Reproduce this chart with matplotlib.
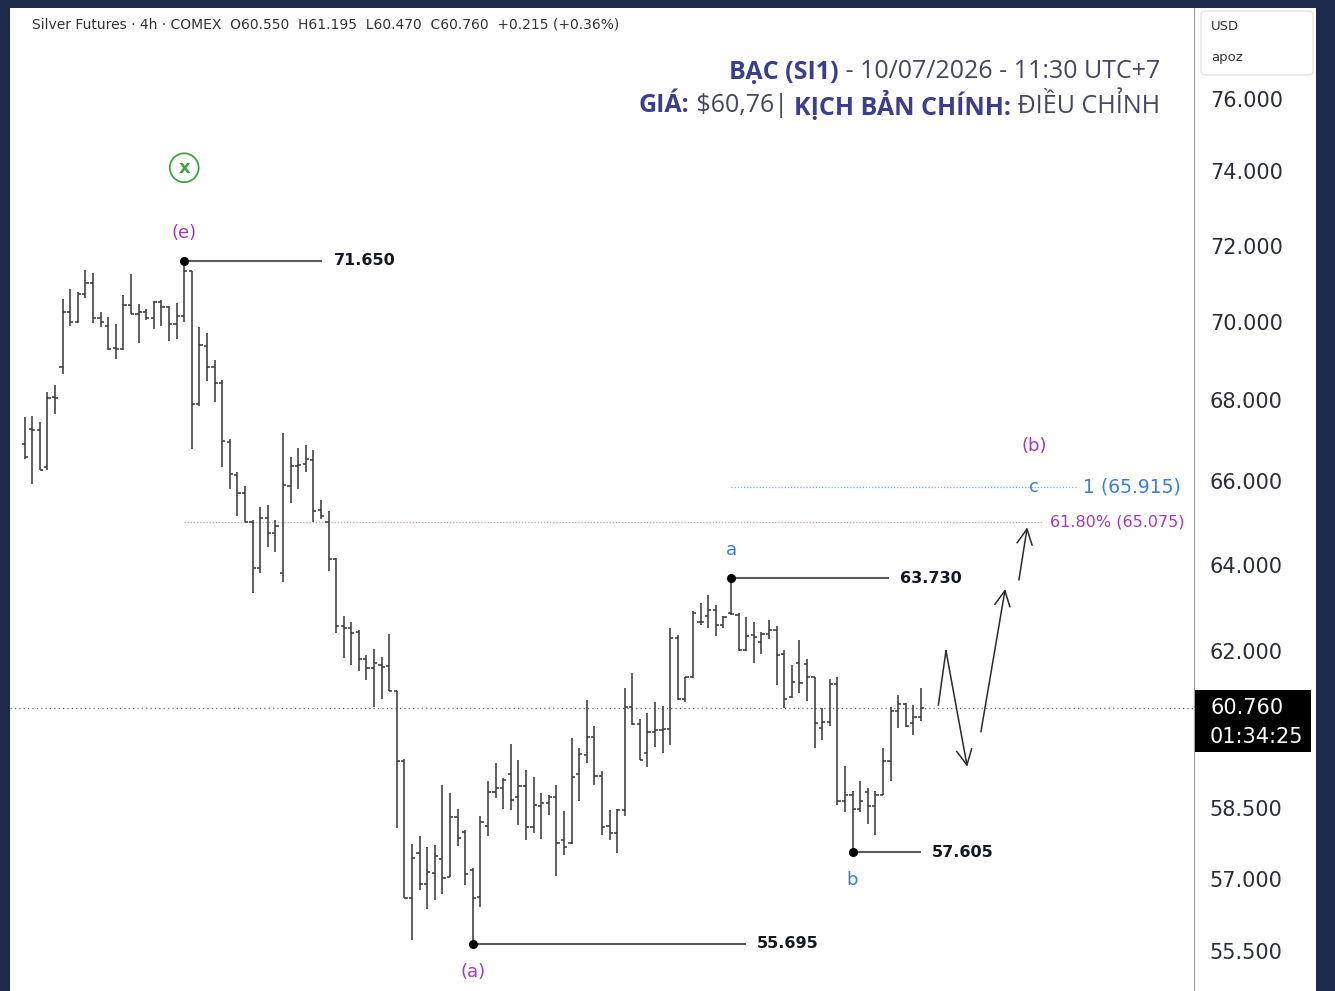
import matplotlib
matplotlib.use("Agg")
import matplotlib.pyplot as plt
import matplotlib.transforms as mtrans
from matplotlib.patches import Rectangle, FancyBboxPatch
from matplotlib.ticker import NullLocator
import numpy as np

W, H = 1335, 991

# Silver Futures 4h, OHLC (oldest -> newest)
opens = [66.97, 67.34, 67.32, 66.41, 68.14, 68.90, 70.31, 70.05, 70.78, 71.07,
         70.15, 69.95, 69.39, 69.36, 70.50, 70.26, 70.31, 70.15, 70.57, 70.44,
         70.00, 70.21, 71.37, 67.96, 69.42, 68.90, 68.50, 67.01, 66.21, 65.76,
         65.07, 63.97, 65.17, 64.81, 63.86, 65.94, 66.43, 66.48, 66.58, 65.36,
         65.06, 64.19, 62.61, 62.57, 62.47, 61.86, 61.65, 61.73, 61.71, 61.14,
         59.58, 56.64, 57.59, 56.94, 57.17, 57.46, 57.07, 58.35, 58.03, 57.22,
         56.65, 58.17, 58.90, 58.98, 59.30, 58.78, 59.02, 58.15, 58.59, 58.67,
         58.78, 57.87, 57.81, 59.28, 59.71, 60.10, 59.25, 58.17, 58.01, 58.50,
         60.77, 60.39, 59.75, 60.22, 60.26, 60.28, 62.35, 60.96, 61.45, 62.70,
         62.84, 62.99, 62.65, 62.92, 62.88, 62.07, 62.41, 62.26, 62.44, 62.53,
         61.98, 61.01, 61.77, 61.75, 61.45, 60.30, 60.43, 61.29, 58.70, 58.84,
         58.53, 58.89, 58.59, 58.84, 59.57, 60.68, 60.85, 60.41, 60.55]
highs = [67.64, 67.67, 67.52, 68.27, 68.45, 70.65, 70.91, 70.84, 71.41, 71.33,
         70.31, 70.18, 70.00, 70.76, 71.31, 70.52, 70.39, 70.60, 70.62, 70.47,
         70.55, 71.65, 71.37, 69.92, 69.77, 69.08, 68.57, 67.10, 66.29, 65.94,
         65.11, 65.43, 65.48, 65.11, 67.25, 66.65, 66.88, 66.95, 66.83, 65.59,
         65.32, 64.21, 62.86, 62.72, 62.53, 61.95, 62.08, 61.91, 62.43, 61.14,
         59.62, 57.78, 57.96, 57.71, 57.76, 59.04, 58.87, 58.52, 58.08, 57.28,
         58.38, 59.13, 59.54, 59.20, 59.94, 59.60, 59.38, 59.23, 58.88, 58.84,
         59.06, 58.48, 60.08, 59.86, 60.94, 60.34, 59.35, 58.50, 58.54, 61.20,
         61.55, 60.50, 60.64, 60.88, 60.79, 62.57, 62.41, 61.46, 62.96, 63.15,
         63.34, 63.11, 62.84, 63.73, 62.92, 62.83, 62.72, 62.49, 62.76, 62.61,
         62.07, 61.73, 62.30, 61.86, 61.45, 60.75, 61.41, 61.45, 59.46, 58.91,
         59.13, 58.99, 58.91, 59.87, 60.78, 61.05, 60.87, 60.81, 61.195]
lows = [66.60, 65.99, 66.33, 66.33, 67.72, 68.72, 69.95, 70.02, 70.68, 70.02,
        69.92, 69.34, 69.11, 69.34, 70.26, 69.51, 70.10, 69.87, 69.95, 69.56,
        69.62, 70.05, 66.85, 67.91, 68.55, 68.02, 66.41, 65.87, 65.20, 65.07,
        63.39, 63.86, 64.46, 64.35, 63.65, 65.53, 65.87, 66.28, 65.06, 65.15,
        63.89, 62.46, 61.88, 61.73, 61.58, 61.39, 60.77, 60.96, 61.13, 58.12,
        56.64, 55.77, 56.80, 56.42, 56.59, 56.73, 57.07, 57.73, 56.92, 55.695,
        56.46, 57.95, 58.76, 58.53, 58.50, 58.19, 57.87, 58.01, 57.88, 58.41,
        57.10, 57.55, 57.78, 58.70, 59.53, 59.06, 57.97, 57.87, 57.59, 58.37,
        60.38, 59.59, 59.44, 59.88, 59.76, 59.93, 60.94, 60.88, 61.43, 62.65,
        62.57, 62.38, 62.57, 62.88, 62.05, 62.05, 61.77, 61.97, 62.32, 61.28,
        60.75, 60.98, 61.10, 60.90, 59.86, 60.04, 60.34, 58.61, 58.46, 57.605,
        58.46, 58.21, 57.97, 58.84, 59.13, 60.30, 60.32, 60.15, 60.47]
closes = [66.65, 67.32, 66.33, 68.11, 68.11, 70.31, 70.05, 70.78, 71.07, 70.15,
          70.05, 69.36, 69.36, 70.50, 70.26, 70.31, 70.15, 70.57, 70.44, 70.00,
          70.21, 71.39, 67.96, 69.45, 68.90, 68.50, 67.03, 66.23, 65.76, 65.07,
          63.97, 65.17, 64.81, 64.96, 65.96, 66.43, 66.46, 66.60, 65.32, 65.20,
          64.19, 62.61, 62.57, 62.46, 61.86, 61.65, 61.77, 61.68, 61.14, 59.58,
          56.64, 57.48, 56.94, 57.18, 57.52, 57.05, 58.35, 57.90, 57.15, 56.63,
          58.26, 58.90, 58.98, 59.17, 58.73, 59.02, 58.15, 58.62, 58.67, 58.78,
          57.81, 57.71, 59.23, 59.73, 60.10, 59.25, 58.15, 58.01, 58.50, 60.77,
          60.39, 59.60, 60.22, 60.26, 60.28, 62.35, 60.96, 61.45, 62.92, 62.72,
          63.00, 62.65, 62.83, 62.90, 62.07, 62.39, 62.37, 62.44, 62.53, 61.95,
          60.96, 61.33, 61.32, 61.45, 60.41, 60.43, 61.29, 58.70, 58.83, 58.53,
          58.70, 58.59, 58.84, 59.57, 60.68, 60.85, 60.35, 60.56, 60.76]

price_ticks = [76, 74, 72, 70, 68, 66, 64, 62, 58.5, 57, 55.5]
last_price = 60.760
countdown = "01:34:25"
header = "Silver Futures · 4h · COMEX  O60.550  H61.195  L60.470  C60.760  +0.215 (+0.36%)"

# wave pivots: bar index, price, wave label
piv_idx = [21, 59, 93, 109]
piv_price = [71.650, 55.695, 63.730, 57.605]
piv_label = ["(e)", "(a)", "a", "b"]

fib_1 = 65.915
fib_618 = 65.075

# projected scenario path (bar index, price)
path_1 = [(120.3, 60.82), (121.3, 62.05), (124.1, 59.45)]
path_2 = [(125.9, 60.22), (129.1, 63.48)]
path_3 = [(130.9, 63.69), (132.0, 64.94)]

PURPLE = "#a23bc0"
BLUE = "#3f7de0"
GREEN = "#43a047"
INK = "#131722"


def fx(px):
    return px / W


def fy(py):
    return 1 - py / H


fig = plt.figure(figsize=(W / 100, H / 100), dpi=100, facecolor="#1e2a4c")

ax = fig.add_axes([fx(10), 0, fx(1194) - fx(10), fy(8)])
ax.set_facecolor("white")
ax.set_yscale("log")
ax.set_ylim(54.729, 78.653)
x0 = -14.7 / 7.595
ax.set_xlim(x0, x0 + 1184 / 7.595)
ax.yaxis.set_major_locator(NullLocator())
ax.yaxis.set_minor_locator(NullLocator())
ax.xaxis.set_major_locator(NullLocator())
for s in ax.spines.values():
    s.set_visible(False)

# ohlc bars
idx = np.arange(len(opens))
bar_col = "#3c3c3c"
ax.vlines(idx, lows, highs, color=bar_col, lw=1.15, zorder=3)
ax.hlines(opens, idx - 0.42, idx, color=bar_col, lw=1.15, zorder=3)
ax.hlines(closes, idx, idx + 0.42, color=bar_col, lw=1.15, zorder=3)

# last price line
ax.axhline(last_price, color="#666666", lw=0.9, ls=(0, (1, 2.5)), zorder=1)

# fib targets
ax.hlines(fib_1, 93, 138.5, color="#86a9ee", lw=0.9, ls=(0, (1, 1.5)), zorder=1)
ax.hlines(fib_618, 21, 134.1, color="#d98ee0", lw=0.9, ls=(0, (1, 1.5)), zorder=1)
ax.text(132.9, fib_1, "c", color=BLUE, ha="center", va="center", fontsize=13)
ax.annotate("(b)", (132.9, fib_1), xytext=(0, 41), textcoords="offset pixels",
            ha="center", va="center", color=PURPLE, fontsize=13)
ax.text(139.3, fib_1, "1 (65.915)", color=BLUE, ha="left", va="center", fontsize=13.5)
ax.text(135.0, fib_618, "61.80% (65.075)", color=PURPLE, ha="left", va="center", fontsize=11.5)

# pivots with level lines
level_len = [18.2, 36.0, 20.8, 9.0]
label_side = [1, -1, 1, -1]
label_col = [PURPLE, PURPLE, BLUE, BLUE]
for i, p, lab, n, side, col in zip(piv_idx, piv_price, piv_label, level_len, label_side, label_col):
    ax.plot([i, i + n], [p, p], color="#5a5a5a", lw=1.5, solid_capstyle="butt", zorder=4)
    ax.plot(i, p, "o", color="black", ms=5.5, zorder=5)
    ax.text(i + n + 1.45, p, f"{p:.3f}", fontweight="bold", fontsize=11.5,
            va="center", ha="left", color=INK)
    ax.annotate(lab, (i, p), xytext=(0, 28 * side), textcoords="offset pixels",
                ha="center", va="center", color=col, fontsize=13, fontweight="medium")

# wave (x) marker
ax.annotate("x", (piv_idx[0], piv_price[0]), xytext=(0, 93), textcoords="offset pixels",
            ha="center", va="center", color=GREEN, fontsize=13, fontweight="bold",
            bbox=dict(boxstyle="circle,pad=0.3", fc="white", ec=GREEN, lw=1.3))

# projected path arrows
arrow_kw = dict(arrowstyle="->,head_length=0.5,head_width=0.25", color="#2b2b2b",
                lw=1.1, mutation_scale=22, shrinkA=0, shrinkB=0)
for path in (path_1, path_2, path_3):
    xs, ys = zip(*path)
    if len(path) > 2:
        ax.plot(xs[:-1], ys[:-1], color="#2b2b2b", lw=1.1)
    ax.annotate("", xy=path[-1], xytext=path[-2], arrowprops=arrow_kw)

# price scale
axp = fig.add_axes([fx(1194), 0, fx(1316) - fx(1194), fy(8)], sharey=ax)
axp.set_facecolor("white")
axp.tick_params(which="both", left=False, labelleft=False, bottom=False,
                labelbottom=False, right=False)
for k, s in axp.spines.items():
    s.set_visible(k == "left")
axp.spines["left"].set_color("#9b9b9b")
tr = mtrans.blended_transform_factory(axp.transAxes, axp.transData)
for p in price_ticks:
    axp.text(0.13, p, f"{p:.3f}", transform=tr, ha="left", va="center",
             fontsize=15, color="#2a2e39")

# last price box
py = axp.transData.transform((0, last_price))[1]
fig.patches.append(Rectangle((fx(1195), (py - 44) / H), fx(1311) - fx(1195), 62 / H,
                             transform=fig.transFigure, fc="black", ec="none", zorder=5))
fig.text(fx(1210), py / H, f"{last_price:.3f}", color="white", fontsize=15,
         ha="left", va="center", zorder=6)
fig.text(fx(1210), (py - 29) / H, countdown, color="white", fontsize=15,
         ha="left", va="center", zorder=6)

# currency box
fig.patches.append(FancyBboxPatch((fx(1201), fy(75)), fx(1313) - fx(1201), 64 / H,
                                  boxstyle="round,pad=0,rounding_size=0.004",
                                  transform=fig.transFigure, fc="white", ec="#e4e4e4",
                                  lw=1, zorder=5))
fig.text(fx(1211), fy(26), "USD", fontsize=9.5, color="#333333", va="center", zorder=6)
fig.text(fx(1211), fy(57), "apoz", fontsize=9.5, color="#333333", va="center", zorder=6)

# header
fig.text(fx(32), fy(25), header, fontsize=10, color="#333333", va="center", zorder=6)

# title block (right aligned, mixed weight)
rend = fig.canvas.get_renderer()
TITLE_B = "#3b3e8c"
TITLE_R = "#45475e"


def rich_right(x_px, y_px, parts):
    x = x_px
    for s, bold, col in reversed(parts):
        t = fig.text(x / W, fy(y_px), s, ha="right", va="center", fontsize=18,
                     family=["Open Sans", "DejaVu Sans"],
                     fontweight="bold" if bold else "normal", color=col, zorder=6)
        x = t.get_window_extent(renderer=rend).x0


rich_right(1160, 72, [("BẠC (SI1)", True, TITLE_B),
                      (" - 10/07/2026 - 11:30 UTC+7", False, TITLE_R)])
rich_right(1160, 106, [("GIÁ:", True, TITLE_B),
                       (" $60,76| ", False, TITLE_R),
                       ("KỊCH BẢN CHÍNH:", True, TITLE_B),
                       (" ĐIỀU CHỈNH", False, TITLE_R)])

fig.savefig("out.png", dpi=100, facecolor=fig.get_facecolor())
